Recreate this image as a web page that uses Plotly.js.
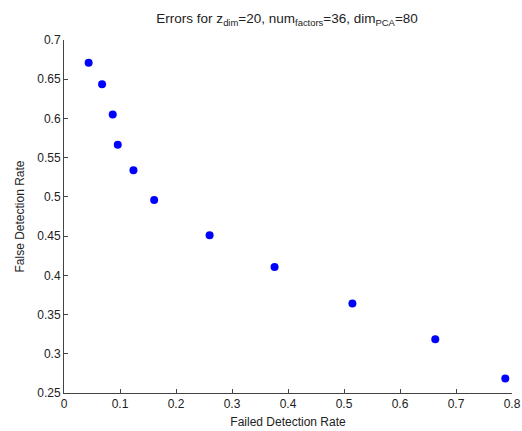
<!DOCTYPE html>
<html>
<head>
<meta charset="utf-8">
<script src="https://cdn.plot.ly/plotly-3.0.1.min.js"></script>
<style>html,body{margin:0;padding:0;background:#fff;}#chart{width:522px;height:431px;}</style>
</head>
<body>
<div id="chart"></div>
<script>
var failedRate = [0.044, 0.068, 0.087, 0.096, 0.124, 0.161, 0.260, 0.376, 0.515, 0.663, 0.788];
var falseRate  = [0.671, 0.6435, 0.605, 0.5665, 0.534, 0.496, 0.451, 0.4105, 0.364, 0.3185, 0.2685];
var xTicks = [0, 0.1, 0.2, 0.3, 0.4, 0.5, 0.6, 0.7, 0.8];
var yTicks = [0.25, 0.3, 0.35, 0.4, 0.45, 0.5, 0.55, 0.6, 0.65, 0.7];

var font = {family: 'Liberation Sans, Arial, sans-serif', size: 12, color: '#222'};
var trace = {
  x: failedRate, y: falseRate, type: 'scatter', mode: 'markers',
  marker: {color: '#0000ff', size: 8, line: {width: 0}}
};
var axisCommon = {
  showgrid: false, zeroline: false, showline: true, linecolor: '#444', linewidth: 1,
  ticks: 'inside', ticklen: 4, tickcolor: '#444', mirror: false, tickfont: font
};
var layout = {
  width: 522, height: 431,
  margin: {l: 64, r: 10, t: 40, b: 38},
  paper_bgcolor: '#fff', plot_bgcolor: '#fff',
  showlegend: false,
  font: font,
  title: {text: 'Errors for z<sub>dim</sub>=20, num<sub>factors</sub>=36, dim<sub>PCA</sub>=80',
          font: {family: 'Liberation Sans, Arial, sans-serif', size: 13.5, color: '#222'},
          x: 0.55, xanchor: 'center', y: 0.958, yanchor: 'middle'},
  xaxis: Object.assign({}, axisCommon, {range: [0, 0.8], tickvals: xTicks, ticktext: xTicks.map(String),
    title: {text: 'Failed Detection Rate', font: font, standoff: 7}}),
  yaxis: Object.assign({}, axisCommon, {range: [0.25, 0.7], tickvals: yTicks, ticktext: yTicks.map(String),
    title: {text: 'False Detection Rate', font: font, standoff: 10}})
};
Plotly.newPlot('chart', [trace], layout, {displayModeBar: false, staticPlot: true});
</script>
</body>
</html>
